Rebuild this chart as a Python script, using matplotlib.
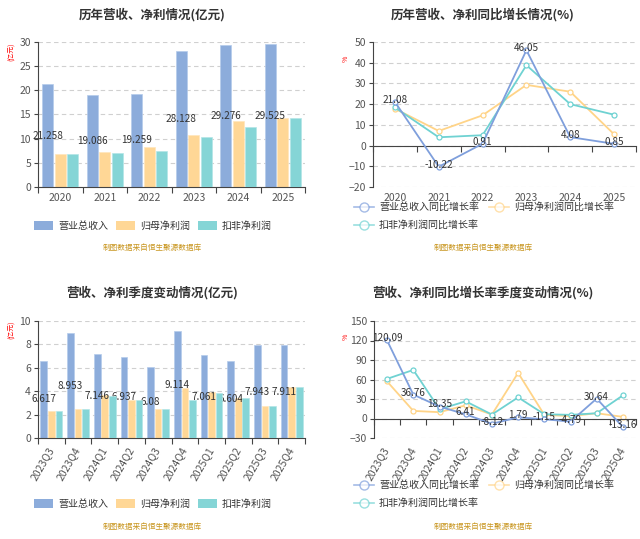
import numpy as np
import matplotlib.pyplot as plt
from matplotlib.lines import Line2D
from matplotlib.patches import Patch

plt.rcParams['font.family'] = ['Noto Sans CJK SC', 'DejaVu Sans']

# annual figures (亿元)
YEARS = ["2020", "2021", "2022", "2023", "2024", "2025"]
YEAR_REVENUE = [21.258, 19.086, 19.259, 28.128, 29.276, 29.525]
YEAR_PARENT = [6.83, 7.31, 8.34, 10.76, 13.66, 14.28]
YEAR_DEDUCTED = [6.83, 7.10, 7.52, 10.34, 12.41, 14.28]

# annual yoy growth (%)
YEAR_REVENUE_GROWTH = [21.08, -10.22, 0.91, 46.05, 4.08, 0.85]
YEAR_PARENT_GROWTH = [17.8, 7.05, 14.6, 29.3, 26.0, 5.45]
YEAR_DEDUCTED_GROWTH = [18.4, 4.0, 5.0, 38.8, 20.0, 14.9]

# quarterly figures (亿元)
QUARTERS = ["2023Q3", "2023Q4", "2024Q1", "2024Q2", "2024Q3",
            "2024Q4", "2025Q1", "2025Q2", "2025Q3", "2025Q4"]
Q_REVENUE = [6.617, 8.953, 7.146, 6.937, 6.08, 9.114, 7.061, 6.604, 7.943, 7.911]
Q_PARENT = [2.34, 2.51, 3.68, 3.22, 2.51, 4.30, 3.90, 3.45, 2.73, 4.39]
Q_DEDUCTED = [2.34, 2.45, 3.59, 3.25, 2.51, 3.28, 3.87, 3.45, 2.73, 4.39]

# quarterly yoy growth (%)
Q_REVENUE_GROWTH = [120.09, 36.76, 18.35, 6.41, -8.12, 1.79, -1.15, -4.79, 30.64, -13.16]
Q_PARENT_GROWTH = [57.0, 11.7, 9.7, 20.3, 6.1, 70.2, 5.6, 3.6, 8.1, 2.5]
Q_DEDUCTED_GROWTH = [61.0, 74.7, 14.2, 26.4, 6.1, 32.5, 6.6, 5.6, 8.1, 35.6]

BAR_NAMES = ["营业总收入", "归母净利润", "扣非净利润"]
LINE_NAMES = ["营业总收入同比增长率", "归母净利润同比增长率", "扣非净利润同比增长率"]

BLUE, ORANGE, TEAL = "#8cacdb", "#ffd796", "#85d5d6"
LBLUE, LORANGE, LTEAL = "#7f9fdc", "#ffd488", "#6fd2d2"
AXIS = "#444444"
TEXT = "#333333"
TICK = "#555555"
SOURCE = "制图数据来自恒生聚源数据库"
SOURCE_COLOR = "#c8951e"

W, H = 640, 539


def fx(px):
    return px / W


def fy(py):
    return 1 - py / H


def base_axis(ax, ylim, yticks):
    ax.set_ylim(*ylim)
    ax.set_yticks(yticks)
    ax.yaxis.grid(True, linestyle=(0, (4, 3)), color="#d0d0d0", linewidth=0.8)
    ax.set_axisbelow(True)
    for s in ["top", "right"]:
        ax.spines[s].set_visible(False)
    ax.spines["left"].set_color(AXIS)
    ax.spines["bottom"].set_color(AXIS)
    ax.tick_params(axis="y", colors=AXIS, labelcolor=TICK, labelsize=7.5,
                   length=3, width=0.8, pad=2)


def cat_labels(axis_obj, cats, rotate):
    if rotate:
        axis_obj.set_xticklabels(cats, rotation=60, ha="right",
                                 rotation_mode="anchor", va="center")
        return 7
    axis_obj.set_xticklabels(cats)
    return 4


def bar_chart(ax, cats, rev, parent, deducted, ylim, yticks, rotate):
    n = len(cats)
    x = np.arange(n)
    w, step = 0.25, 0.283
    ax.bar(x - step, rev, w, color=BLUE, edgecolor="#b5cbeb", linewidth=0.5, zorder=2)
    ax.bar(x, parent, w, color=ORANGE, edgecolor="#ffe6bd", linewidth=0.5, zorder=2)
    ax.bar(x + step, deducted, w, color=TEAL, edgecolor="#b3e6e6", linewidth=0.5, zorder=4)
    for xi, v in zip(x, rev):
        ax.text(xi - step, v / 2, f"{v:g}", ha="center", va="center",
                fontsize=7.2, color=TEXT, zorder=3)
    ax.set_xlim(-0.5, n - 0.5)
    base_axis(ax, ylim, yticks)
    ax.set_xticks(np.arange(n + 1) - 0.5)
    ax.set_xticklabels([])
    ax.tick_params(axis="x", which="major", colors=AXIS, length=4, width=0.8)
    ax.set_xticks(x, minor=True)
    if rotate:
        ax.set_xticklabels(cats, minor=True, rotation=60, ha="right",
                           rotation_mode="anchor", va="center")
        pad = 7
    else:
        ax.set_xticklabels(cats, minor=True)
        pad = 4
    ax.tick_params(axis="x", which="minor", length=0, pad=pad,
                   labelsize=7.5, labelcolor=TICK)


def line_chart(ax, cats, rev, parent, deducted, ylim, yticks, rotate):
    n = len(cats)
    x = np.arange(n)
    for vals, c, z in [(parent, LORANGE, 2), (deducted, LTEAL, 3), (rev, LBLUE, 4)]:
        ax.plot(x, vals, color=c, linewidth=1.3, marker="o", markersize=3.6,
                markerfacecolor="white", markeredgewidth=0.9, zorder=z)
    for xi, v in zip(x, rev):
        ax.annotate(f"{v:g}", (xi, v), xytext=(0, 1.5), textcoords="offset points",
                    ha="center", va="center", fontsize=7.2, color=TEXT, zorder=5)
    ax.set_xlim(-0.5, n - 0.5)
    base_axis(ax, ylim, yticks)
    # x axis line sits on zero, labels stay at the bottom
    ax.spines["bottom"].set_position(("data", 0))
    ax.set_xticks(np.arange(n + 1) - 0.5)
    ax.set_xticklabels([])
    ax.tick_params(axis="x", colors=AXIS, length=4, width=0.8)
    sec = ax.secondary_xaxis(0)
    sec.spines["bottom"].set_visible(False)
    sec.set_xticks(x)
    pad = cat_labels(sec, cats, rotate)
    sec.tick_params(length=0, pad=pad, labelsize=7.5, labelcolor=TICK)


def bar_legend(fig, cx, cy):
    handles = [Patch(facecolor=c, edgecolor="none") for c in (BLUE, ORANGE, TEAL)]
    fig.legend(handles, BAR_NAMES, loc="center", bbox_to_anchor=(fx(cx), fy(cy)),
               ncol=3, frameon=False, fontsize=7.2, handlelength=1.9,
               handleheight=1.0, handletextpad=0.5, columnspacing=0.8,
               labelcolor=TEXT)


def line_legend(fig, lx, ty):
    def h(c):
        return Line2D([], [], color=c, linewidth=1.2, marker="o", markersize=6.5,
                      markerfacecolor="white", markeredgewidth=1.0, alpha=0.7)
    # column-wise fill: [rev, deducted] | [parent]
    handles = [h(LBLUE), h(LTEAL), h(LORANGE)]
    labels = [LINE_NAMES[0], LINE_NAMES[2], LINE_NAMES[1]]
    fig.legend(handles, labels, loc="upper left", bbox_to_anchor=(fx(lx), fy(ty)),
               ncol=2, frameon=False, fontsize=7.2, handlelength=2.0,
               handletextpad=0.5, columnspacing=1.0, labelspacing=0.8,
               labelcolor=TEXT, borderaxespad=0, borderpad=0)


def main():
    fig = plt.figure(figsize=(6.4, 5.39), dpi=100)

    ax1 = fig.add_axes([fx(38), fy(187), fx(305 - 38), (187 - 42) / H])
    bar_chart(ax1, YEARS, YEAR_REVENUE, YEAR_PARENT, YEAR_DEDUCTED,
              (0, 30), range(0, 31, 5), False)
    ax2 = fig.add_axes([fx(373), fy(187), fx(636 - 373), (187 - 42) / H])
    line_chart(ax2, YEARS, YEAR_REVENUE_GROWTH, YEAR_PARENT_GROWTH,
               YEAR_DEDUCTED_GROWTH, (-20, 50), range(-20, 51, 10), False)
    ax3 = fig.add_axes([fx(38), fy(438), fx(305 - 38), (438 - 321) / H])
    bar_chart(ax3, QUARTERS, Q_REVENUE, Q_PARENT, Q_DEDUCTED,
              (0, 10), range(0, 11, 2), True)
    ax4 = fig.add_axes([fx(374), fy(438), fx(636 - 374), (438 - 321) / H])
    line_chart(ax4, QUARTERS, Q_REVENUE_GROWTH, Q_PARENT_GROWTH,
               Q_DEDUCTED_GROWTH, (-30, 150), range(-30, 151, 30), True)

    # unit labels (red, beside the value axes)
    for ux, uy, u in [(12, 52, "(亿元)"), (346, 59, "%"),
                      (12, 330, "(亿元)"), (346, 337, "%")]:
        fig.text(fx(ux), fy(uy), u, color="red", fontsize=5, rotation=90,
                 ha="center", va="center")

    titles = [(152, 15, "历年营收、净利情况(亿元)"),
              (483, 15, "历年营收、净利同比增长情况(%)"),
              (152, 293, "营收、净利季度变动情况(亿元)"),
              (483, 293, "营收、净利同比增长率季度变动情况(%)")]
    for cx, cy, t in titles:
        fig.text(fx(cx), fy(cy), t, ha="center", va="center", fontsize=9,
                 fontweight="bold", color=TEXT)

    bar_legend(fig, 153, 226)
    bar_legend(fig, 153, 504)
    line_legend(fig, 354, 202)
    line_legend(fig, 354, 480)

    for cx, cy in [(152, 248), (483, 248), (152, 527), (483, 527)]:
        fig.text(fx(cx), fy(cy), SOURCE, ha="center", va="center",
                 fontsize=5.5, color=SOURCE_COLOR)

    fig.savefig("out.png", dpi=100)


if __name__ == "__main__":
    main()
